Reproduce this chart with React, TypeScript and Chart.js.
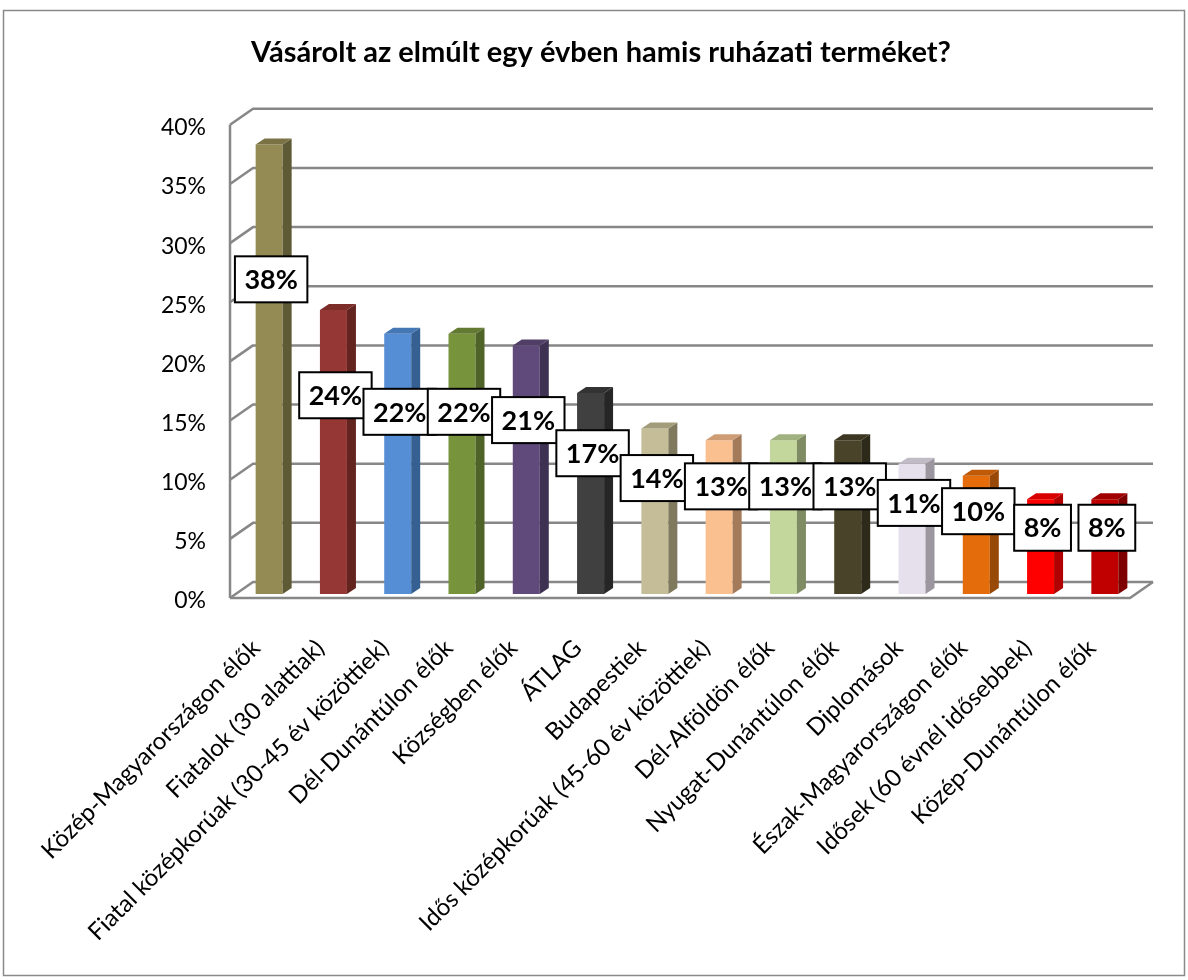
import React, { useEffect, useRef } from 'react';
import { Chart, registerables } from 'chart.js';

Chart.register(...registerables);

const TITLE = 'Vásárolt az elmúlt egy évben hamis ruházati terméket?';

const categories = [
  'Közép-Magyarországon élők',
  'Fiatalok (30 alattiak)',
  'Fiatal középkorúak (30-45 év közöttiek)',
  'Dél-Dunántúlon élők',
  'Községben élők',
  'ÁTLAG',
  'Budapestiek',
  'Idős középkorúak (45-60 év közöttiek)',
  'Dél-Alföldön élők',
  'Nyugat-Dunántúlon élők',
  'Diplomások',
  'Észak-Magyarországon élők',
  'Idősek (60 évnél idősebbek)',
  'Közép-Dunántúlon élők',
];

const values = [38, 24, 22, 22, 21, 17, 14, 13, 13, 13, 11, 10, 8, 8];

const frontColors = [
  '#948A54', '#953735', '#558ED5', '#77933C', '#604A7B', '#404040', '#C4BD97',
  '#FAC090', '#C3D69B', '#494429', '#E6E0EC', '#E46C0A', '#FF0000', '#C00000',
];
const sideColors = [
  '#5F5A36', '#63231F', '#366092', '#4F6228', '#3F3151', '#262626', '#7F7A5E',
  '#A37B5A', '#7E8B63', '#2E2A1A', '#9B96A0', '#984807', '#B00000', '#7F0000',
];
const topColors = [
  '#7A7245', '#7C2D2A', '#4577B4', '#637A32', '#503E66', '#333333', '#A29C7A',
  '#CE9D75', '#A1B17F', '#3B3722', '#C1BBC6', '#BE5A08', '#D80000', '#A00000',
];

const Y_MAX = 40;
const Y_STEP = 5;

const FONT = "Lato, 'Noto Sans', sans-serif";

const wallPlugin = {
  id: 'wall3d',
  beforeDraw(chart: any) {
    const { ctx, width, height } = chart;
    ctx.save();
    ctx.fillStyle = '#ffffff';
    ctx.fillRect(0, 0, width, height);
    ctx.strokeStyle = '#8a8a8a';
    ctx.lineWidth = 1.5;
    ctx.strokeRect(3.5, 10.5, width - 7, height - 15);
    ctx.restore();
  },
  beforeDatasetsDraw(chart: any) {
    const { ctx, chartArea, scales } = chart;
    const y = scales.y;
    const fx0 = chartArea.left - 7;
    const fx1 = chartArea.right - 7;
    ctx.save();
    ctx.strokeStyle = '#878787';
    ctx.lineWidth = 2.5;
    ctx.lineJoin = 'round';
    y.ticks.forEach((t: any) => {
      const py = y.getPixelForValue(t.value) + 4;
      ctx.beginPath();
      ctx.moveTo(fx0, py);
      ctx.lineTo(fx0 + 23, py - 16);
      ctx.lineTo(fx1 + 23, py - 16);
      ctx.stroke();
    });
    const p0 = y.getPixelForValue(0) + 4;
    const pTop = y.getPixelForValue(Y_MAX) + 4;
    ctx.beginPath();
    ctx.moveTo(fx0, p0);
    ctx.lineTo(fx1, p0);
    ctx.lineTo(fx1 + 23, p0 - 16);
    ctx.stroke();
    ctx.beginPath();
    ctx.moveTo(fx0, pTop);
    ctx.lineTo(fx0, p0);
    ctx.stroke();
    ctx.restore();
  },
  afterDatasetsDraw(chart: any) {
    const { ctx } = chart;
    const meta = chart.getDatasetMeta(0);
    const DX = 9;
    const DY = 6;
    ctx.save();
    meta.data.forEach((bar: any, i: number) => {
      const { x, y, base, width } = bar.getProps(['x', 'y', 'base', 'width'], true);
      const l = x - width / 2;
      const r = x + width / 2;
      ctx.fillStyle = sideColors[i];
      ctx.beginPath();
      ctx.moveTo(r, y);
      ctx.lineTo(r + DX, y - DY);
      ctx.lineTo(r + DX, base - DY);
      ctx.lineTo(r, base);
      ctx.closePath();
      ctx.fill();
      ctx.fillStyle = topColors[i];
      ctx.beginPath();
      ctx.moveTo(l, y);
      ctx.lineTo(l + DX, y - DY);
      ctx.lineTo(r + DX, y - DY);
      ctx.lineTo(r, y);
      ctx.closePath();
      ctx.fill();
    });
    // data labels
    ctx.font = `bold 27px ${FONT}`;
    ctx.textAlign = 'center';
    ctx.textBaseline = 'middle';
    meta.data.forEach((bar: any, i: number) => {
      const { x, y, base } = bar.getProps(['x', 'y', 'base'], true);
      const text = `${values[i]}%`;
      const cx = x + 2;
      const cy = base - 0.7 * (base - y);
      const tw = ctx.measureText(text).width;
      const bw = tw + 19;
      const bh = 46;
      ctx.fillStyle = '#ffffff';
      ctx.fillRect(cx - bw / 2, cy - bh / 2, bw, bh);
      ctx.strokeStyle = '#000000';
      ctx.lineWidth = 2;
      ctx.strokeRect(cx - bw / 2, cy - bh / 2, bw, bh);
      ctx.fillStyle = '#000000';
      ctx.fillText(text, cx, cy + 1);
    });
    ctx.restore();
  },
};

export default function App() {
  const canvasRef = useRef<HTMLCanvasElement | null>(null);

  useEffect(() => {
    const canvas = canvasRef.current;
    if (!canvas) return;
    const chart = new Chart(canvas, {
      type: 'bar',
      data: {
        labels: categories,
        datasets: [
          {
            data: values,
            backgroundColor: frontColors,
            borderWidth: 0,
            barPercentage: 0.42,
            categoryPercentage: 1,
          },
        ],
      },
      options: {
        responsive: false,
        animation: false,
        devicePixelRatio: 1,
        layout: { padding: { left: 65, right: 51, top: 0, bottom: 0 } },
        plugins: {
          legend: { display: false },
          tooltip: { enabled: false },
          title: {
            display: true,
            text: TITLE,
            color: '#000000',
            font: { family: FONT, size: 29, weight: 'bold' },
            padding: { top: 35, bottom: 51 },
          },
        },
        scales: {
          x: {
            grid: { display: false, drawTicks: false },
            border: { display: false },
            ticks: {
              autoSkip: false,
              minRotation: 45,
              maxRotation: 45,
              color: '#000000',
              padding: 40,
              labelOffset: -13,
              font: { family: FONT, size: 24 },
            },
            afterFit: (scale: any) => {
              scale.height = 386;
            },
          },
          y: {
            min: 0,
            max: Y_MAX,
            grid: { display: false, drawTicks: false },
            border: { display: false },
            ticks: {
              stepSize: Y_STEP,
              color: '#000000',
              padding: 31,
              labelOffset: 7,
              font: { family: FONT, size: 23 },
              callback: (v: any) => `${v}%`,
            },
            afterFit: (scale: any) => {
              scale.width = 172;
            },
          },
        },
      },
      plugins: [wallPlugin],
    });
    return () => chart.destroy();
  }, []);

  return (
    <div style={{ position: 'absolute', left: 0, top: 0, width: 1188, height: 980 }}>
      <canvas ref={canvasRef} width={1188} height={980} style={{ display: 'block' }} />
    </div>
  );
}
